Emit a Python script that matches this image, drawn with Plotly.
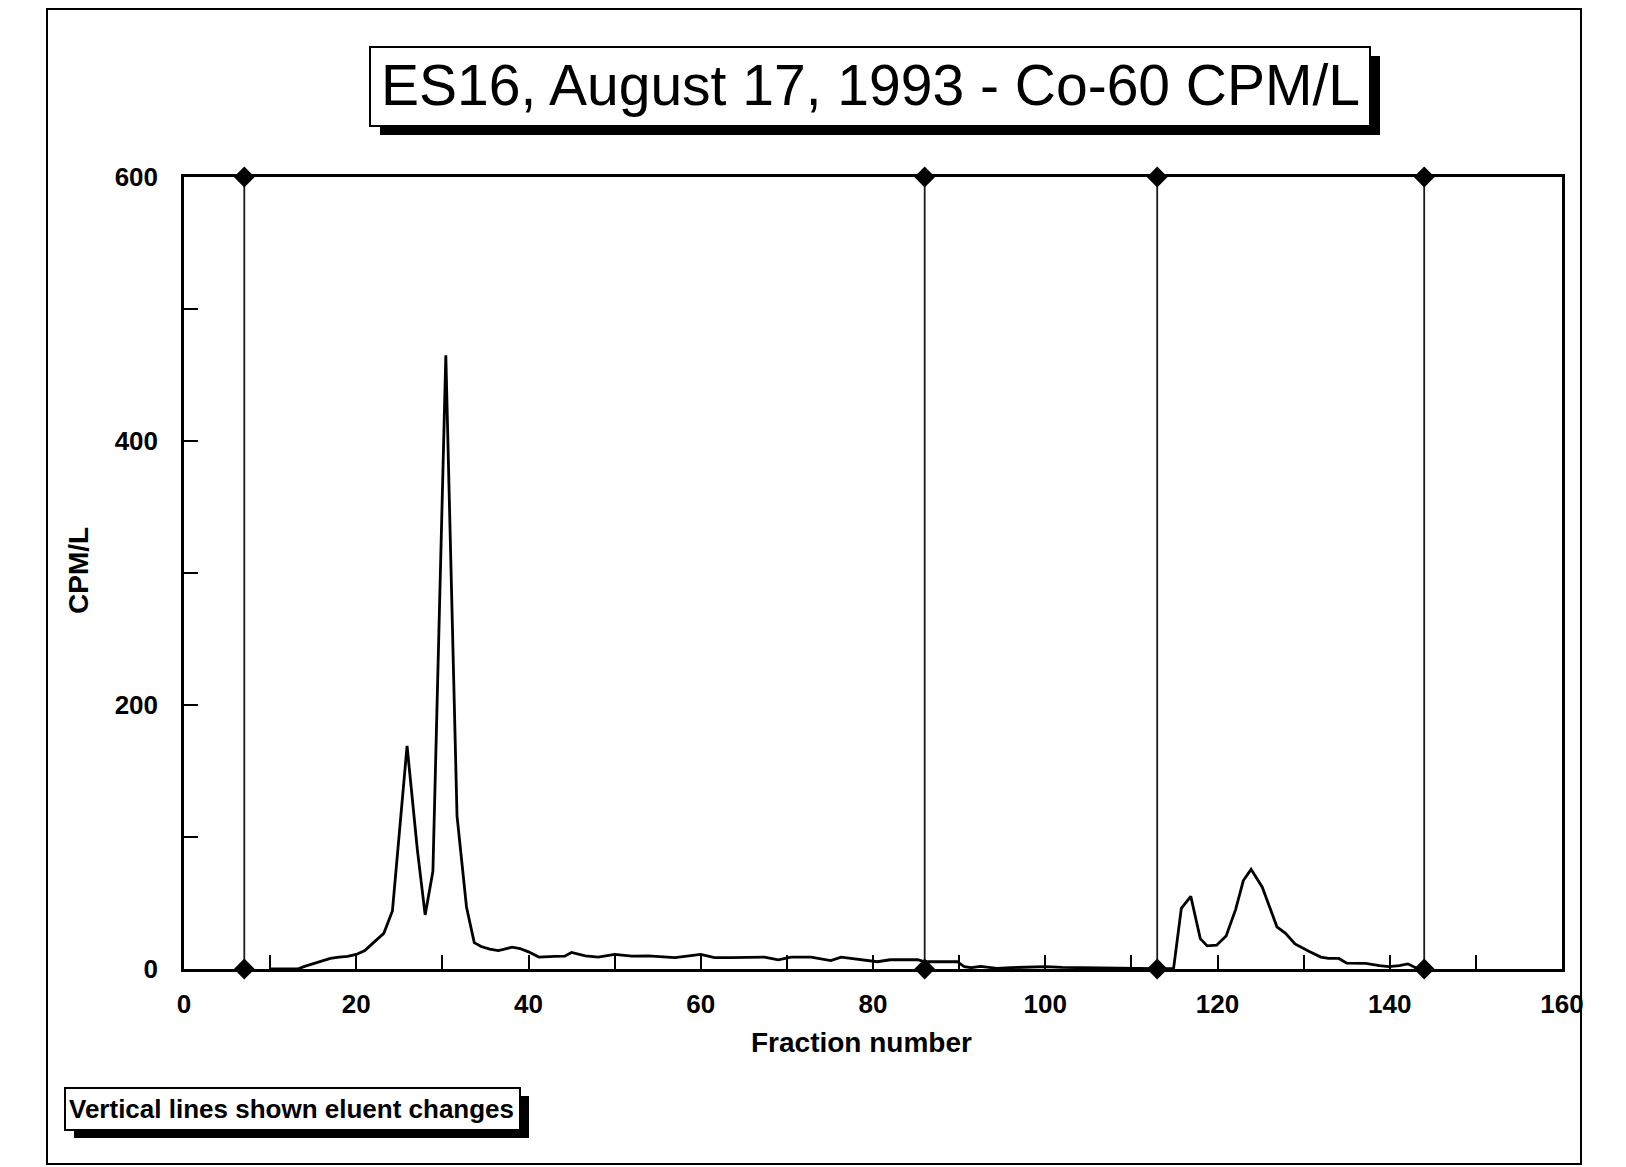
import plotly.graph_objects as go

# Co-60 activity per fraction (CPM/L)
fraction = [10, 13.2, 14, 15, 16, 17, 18, 19, 20, 21, 22, 23.2, 24.2, 25.9,
            27.1, 28.0, 28.9, 30.4, 31.7, 32.8, 33.7, 34.5, 35.5, 36.5, 37.2, 38.1,
            39, 40, 41.2, 42, 43, 44.2, 45, 46.6, 48.1, 50, 52, 53.9, 55.5, 57, 60,
            61.6, 63.5, 65.5, 67.4, 69, 70.5, 72.8, 75.1, 76.3, 77.5, 79, 80.5, 82,
            85.2, 86, 89.8, 90.6, 91.4, 92.5, 94.4, 96, 98, 100, 102, 104, 106, 108,
            110, 112, 113, 114.9, 115.8, 116.9, 118, 118.8, 119.9, 121, 122.1, 123,
            123.9, 125.2, 126.9, 127.9, 129, 130.6, 132, 132.9, 134.1, 135, 137.2,
            138.8, 139.9, 141.1, 142.1, 143, 144]
cpm = [0, 0, 2, 4, 6, 8, 9, 9.5, 11, 14, 20, 27, 44, 169,
       90, 41, 74, 465, 116, 47, 20, 17, 15, 14, 15, 16.5,
       15.5, 13, 9, 9, 9.5, 9.7, 12.5, 10, 9, 11, 9.7, 10, 9.5, 8.6, 11,
       8.6, 8.6, 8.6, 9, 7, 9, 9, 6.4, 9, 8, 6.4, 5.5, 7,
       7, 5.5, 5.5, 1.7, 1, 2, 0.5, 1, 1.5, 1.8, 1.2, 1, 0.8, 1,
       0.8, 0.5, 0.3, 0.5, 46, 55, 23, 17.5, 18, 25, 45, 67,
       75.5, 62, 32, 27, 19, 13.5, 9, 8, 8, 4.4, 4.2,
       2.6, 1.8, 2.6, 3.9, 1, 0]

# Fractions at which the eluent was changed
eluent_change = [7, 86, 113, 144]

x_ticks = list(range(0, 161, 10))
x_labels = [str(v) if v % 20 == 0 else "" for v in x_ticks]
y_ticks = list(range(0, 601, 100))
y_labels = [str(v) if v % 200 == 0 else "" for v in y_ticks]

title_text = "ES16, August 17, 1993 - Co-60 CPM/L"
x_title = "Fraction number"
y_title = "CPM/L"
note_text = "Vertical lines shown eluent changes"

W, H = 1626, 1167
L, R, T, B = 184, 64, 177, 198
PW, PH = W - L - R, H - T - B


def px(x):
    return (x - L) / PW


def py(y):
    return (H - B - y) / PH


FONT = "Liberation Sans, Arial, sans-serif"

fig = go.Figure()

# eluent change markers: vertical line with diamonds at both ends
vx, vy = [], []
for f in eluent_change:
    vx += [f, f, None]
    vy += [0, 600, None]
fig.add_trace(go.Scatter(
    x=vx, y=vy, mode="lines+markers",
    line=dict(color="#1a1a1a", width=1.8),
    marker=dict(symbol="diamond", size=16, color="black"),
    cliponaxis=False, showlegend=False, hoverinfo="skip"))

fig.add_trace(go.Scatter(
    x=fraction, y=cpm, mode="lines",
    line=dict(color="black", width=2.8),
    showlegend=False))

axis_common = dict(
    showgrid=False, zeroline=False, showline=True, linecolor="black",
    linewidth=2.5, mirror=True, ticks="inside", ticklen=14, tickwidth=2,
    tickcolor="black",
    tickfont=dict(family=FONT, size=26, color="black", weight="bold"))

fig.update_xaxes(range=[0, 160], tickmode="array", tickvals=x_ticks,
                 ticktext=x_labels, ticklabelstandoff=10, **axis_common)
fig.update_yaxes(range=[0, 600], tickmode="array", tickvals=y_ticks,
                 ticktext=y_labels, ticklabelstandoff=18, **axis_common)

shapes = [
    # page frame
    dict(type="rect", xref="paper", yref="paper",
         x0=px(47), x1=px(1581), y0=py(1164), y1=py(9),
         line=dict(color="black", width=2), fillcolor="rgba(0,0,0,0)"),
    # title box shadow and box
    dict(type="rect", xref="paper", yref="paper",
         x0=px(380), x1=px(1380), y0=py(135), y1=py(56),
         line=dict(width=0), fillcolor="black"),
    dict(type="rect", xref="paper", yref="paper",
         x0=px(370), x1=px(1370), y0=py(126), y1=py(47),
         line=dict(color="black", width=2), fillcolor="white"),
    # note box shadow and box
    dict(type="rect", xref="paper", yref="paper",
         x0=px(74), x1=px(529), y0=py(1138), y1=py(1096),
         line=dict(width=0), fillcolor="black"),
    dict(type="rect", xref="paper", yref="paper",
         x0=px(65), x1=px(520), y0=py(1130), y1=py(1088),
         line=dict(color="black", width=2), fillcolor="white"),
]

annotations = [
    dict(text=title_text, xref="paper", yref="paper", x=px(870), y=py(85),
         xanchor="center", yanchor="middle", showarrow=False,
         font=dict(family=FONT, size=57, color="black")),
    dict(text=note_text, xref="paper", yref="paper", x=px(67), y=py(1109),
         xanchor="left", yanchor="middle", showarrow=False,
         font=dict(family=FONT, size=26, color="black", weight="bold")),
    dict(text=x_title, xref="paper", yref="paper", x=px(861), y=py(1042),
         xanchor="center", yanchor="middle", showarrow=False,
         font=dict(family=FONT, size=28, color="black", weight="bold")),
    dict(text=y_title, xref="paper", yref="paper", x=px(78), y=py(571),
         xanchor="center", yanchor="middle", showarrow=False, textangle=-90,
         font=dict(family=FONT, size=28, color="black", weight="bold")),
]

fig.update_layout(
    width=W, height=H,
    margin=dict(l=L, r=R, t=T, b=B, autoexpand=False),
    paper_bgcolor="white", plot_bgcolor="white",
    shapes=shapes, annotations=annotations,
    font=dict(family=FONT, color="black"),
)

fig.write_html("out.html")
